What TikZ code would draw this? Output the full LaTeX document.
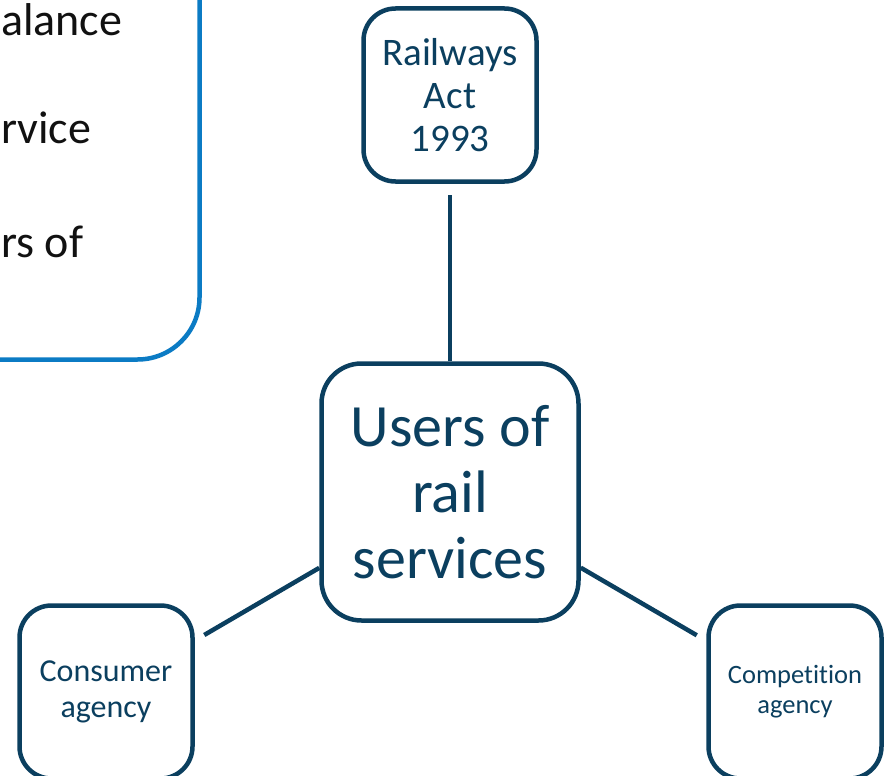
\documentclass[tikz,border=0pt]{standalone}
\usepackage{fontspec}
\setmainfont{Carlito}[Ligatures=NoCommon]
\usetikzlibrary{positioning}
\definecolor{rlNavy}{HTML}{0B3F5F}
\definecolor{rlBlue}{HTML}{0B7BC4}
\definecolor{rlInk}{HTML}{111111}
\tikzset{
  box/.style      ={draw=rlNavy,line width=4.5pt,fill=white,text=rlNavy,
                    align=center,inner sep=0pt},
  smallbox/.style ={box,minimum width=173pt,minimum height=173pt,rounded corners=32pt},
  hubbox/.style   ={box,minimum width=257pt,minimum height=257pt,rounded corners=40pt,
                    font=\fontsize{60}{66}\selectfont},
  notebox/.style  ={draw=rlBlue,line width=4.5pt,rounded corners=62pt},
  notetext/.style ={text=rlInk,inner sep=0pt,anchor=base west,
                    font=\fontsize{46}{56}\selectfont},
  link/.style     ={draw=rlNavy,line width=4.5pt},
}
\begin{document}
\begin{tikzpicture}[x=1pt,y=-1pt]
\useasboundingbox (0,0) rectangle (886,776);
\clip (0,0) rectangle (886,776);

% note panel, only its right part is in view
\draw[notebox] (-400,-100) rectangle (199.5,359.5);
\node[notetext] (n1) at (1,36) {alance};
\node[notetext] (n2) at (1,143) {rvice};
\node[notetext] (n3) at (1,257) {rs of};

\node[hubbox] (users) at (450,492) {Users of\\rail\\services};
\node[smallbox,font=\fontsize{39}{43}\selectfont] (act) at (450,95) {Railways\\Act\\1993};
\node[smallbox,font=\fontsize{32}{36}\selectfont] (consumer) at (106,692) {Consumer\\agency};
\node[smallbox,font=\fontsize{26.5}{30}\selectfont] (competition) at (795,692) {Competition\\agency};

\draw[link,shorten >=11pt] (users) -- (act);
\draw[link,shorten >=11pt] (users) -- (consumer);
\draw[link,shorten >=11pt] (users) -- (competition);
\end{tikzpicture}
\end{document}
